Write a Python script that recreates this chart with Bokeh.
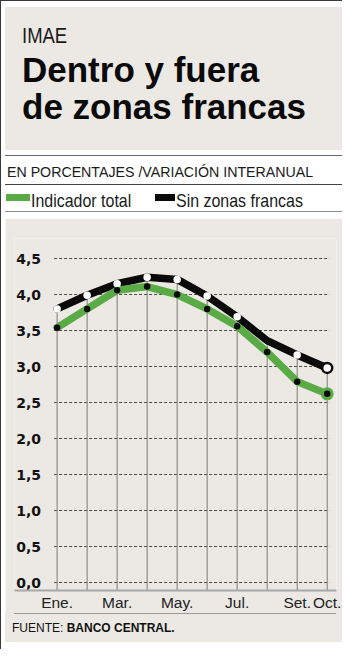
from bokeh.plotting import figure
from bokeh.models import Div, Range1d, FixedTicker
from bokeh.layouts import column, row
from bokeh.embed import file_html
from bokeh.resources import INLINE
from bokeh.core.properties import value

# ---------------- data ----------------
months = ["Ene.", "Feb.", "Mar.", "Abr.", "May.", "Jun.", "Jul.", "Ago.", "Set.", "Oct."]
month_index = [1, 2, 3, 4, 5, 6, 7, 8, 9, 10]
indicador_total = [3.54, 3.80, 4.06, 4.11, 4.00, 3.80, 3.56, 3.20, 2.79, 2.62]
sin_zonas_francas = [3.80, 3.99, 4.15, 4.24, 4.21, 3.98, 3.69, 3.36, 3.16, 2.98]
x_tick_months = [1, 3, 5, 7, 9, 10]
y_ticks = [0.0, 0.5, 1.0, 1.5, 2.0, 2.5, 3.0, 3.5, 4.0, 4.5]
y_tick_labels = ["0,0", "0,5", "1,0", "1,5", "2,0", "2,5", "3,0", "3,5", "4,0", "4,5"]
unmarked_months = ["Ago."]

title_kicker = "IMAE"
title_main = "Dentro y fuera<br>de zonas francas"
subtitle = "EN PORCENTAJES /VARIACIÓN INTERANUAL"
legend_names = ["Indicador total", "Sin zonas francas"]
source_label = "FUENTE:"
source_name = "BANCO CENTRAL."

# ---------------- style ----------------
BEIGE = "#ece9e4"
GREEN = "#5aab46"
BLACK = "#0a0a0a"
RULE = "#3a3a3a"
NARROW = "transform:scaleX(0.84);transform-origin:0 0;"

# ---------------- header ----------------
header_html = f"""
<div style="position:relative;width:342px;height:218px;font-family:'Liberation Sans',Arial,sans-serif;color:#111;">
 <div style="position:absolute;left:0;top:0;width:342px;height:1px;background:{RULE};"></div>
 <div style="position:absolute;left:0;top:0;width:1px;height:218px;background:{RULE};"></div>
 <div style="position:absolute;left:5px;top:7px;width:337px;height:143px;background:{BEIGE};"></div>
 <div style="position:absolute;left:22px;top:25px;font-size:22px;line-height:22px;white-space:nowrap;color:#1a1a1a;{NARROW}">{title_kicker}</div>
 <div style="position:absolute;left:22px;top:51px;font-weight:bold;font-size:35px;line-height:37px;white-space:nowrap;color:#0a0a0a;">{title_main}</div>
 <div style="position:absolute;left:5px;top:155px;width:337px;height:1px;background:#6a6a6a;"></div>
 <div style="position:absolute;left:7px;top:165px;font-size:14.2px;line-height:14px;white-space:nowrap;color:#1a1a1a;">{subtitle}</div>
 <div style="position:absolute;left:5px;top:184px;width:337px;height:1px;background:#444;"></div>
 <div style="position:absolute;left:6px;top:194px;width:24px;height:7px;background:{GREEN};"></div>
 <div style="position:absolute;left:31px;top:191px;font-size:19px;line-height:19px;white-space:nowrap;color:#1a1a1a;{NARROW}">{legend_names[0]}</div>
 <div style="position:absolute;left:155px;top:194px;width:20px;height:7px;background:{BLACK};"></div>
 <div style="position:absolute;left:176px;top:191px;font-size:19px;line-height:19px;white-space:nowrap;color:#1a1a1a;{NARROW}">{legend_names[1]}</div>
 <div style="position:absolute;left:5px;top:211px;width:337px;height:1px;background:#8a8a8a;"></div>
</div>
"""
header = Div(text=header_html, width=342, height=218, margin=0)

# ---------------- chart ----------------
x_start, x_end = -0.42, 10.31
y_start, y_end = -0.111, 4.778

p = figure(frame_width=322, frame_height=352, output_backend="svg", toolbar_location=None, tools="",
           x_range=Range1d(x_start, x_end), y_range=Range1d(y_start, y_end),
           y_axis_location=None,
           min_border_left=9, min_border_right=6, min_border_top=20, min_border_bottom=0)
p.background_fill_color = BEIGE
p.border_fill_color = BEIGE
p.outline_line_color = None
p.xgrid.visible = False
p.ygrid.visible = False

# dashed horizontal guides from first to last month
p.segment(x0=[month_index[0] - 0.1] * len(y_ticks), x1=[month_index[-1] + 0.07] * len(y_ticks),
          y0=y_ticks, y1=y_ticks, line_color="#4a4a4a", line_width=1, line_dash="3 2")

# vertical drop lines
p.segment(x0=month_index, x1=month_index, y0=sin_zonas_francas, y1=[y_start] * len(month_index),
          line_color="#7a7a7a", line_width=1)

# lines
p.line(month_index, sin_zonas_francas, line_color=BLACK, line_width=7.5, line_join="round", line_cap="round")
p.line(month_index, indicador_total, line_color=GREEN, line_width=7.5, line_join="round", line_cap="round")

# markers (all but last, and except unmarked months for the black series)
mk_x = [m for m, lab in zip(month_index[:-1], months[:-1]) if lab not in unmarked_months]
mk_y = [v for v, lab in zip(sin_zonas_francas[:-1], months[:-1]) if lab not in unmarked_months]
p.scatter(mk_x, mk_y, size=7.5, fill_color="white", line_color=None)
p.scatter(month_index[:-1], indicador_total[:-1], size=6.5, fill_color=BLACK, line_color=None)

# emphasized last points
p.scatter([month_index[-1]], [sin_zonas_francas[-1]], size=10, fill_color="white",
          line_color=BLACK, line_width=2.5)
p.scatter([month_index[-1]], [indicador_total[-1]], size=13, fill_color=GREEN, line_color=None)
p.scatter([month_index[-1]], [indicador_total[-1]], size=6.5, fill_color=BLACK, line_color=None)

# y labels
p.text(x=[month_index[0]] * len(y_ticks), y=y_ticks, text=y_tick_labels,
       x_offset=-16, text_align="right", text_baseline="middle",
       text_font=value("DejaVu Sans"), text_font_style="bold", text_font_size="14px",
       text_color="#111111")

# x axis
p.xaxis.ticker = FixedTicker(ticks=x_tick_months)
p.xaxis.major_label_overrides = {m: months[m - 1] for m in x_tick_months}
p.xaxis.axis_line_color = "#a8a8a8"
p.xaxis.axis_line_width = 2
p.xaxis.major_tick_line_color = None
p.xaxis.minor_tick_line_color = None
p.xaxis.major_tick_out = 0
p.xaxis.major_label_standoff = 3
p.xaxis.major_label_text_font = "Liberation Sans"
p.xaxis.major_label_text_font_size = "15.5px"
p.xaxis.major_label_text_color = "#222222"

# ---------------- source ----------------
source_html = f"""
<div style="position:relative;width:337px;height:29px;font-family:'Liberation Sans',Arial,sans-serif;">
 <div style="position:absolute;left:0;top:0;width:337px;height:29px;background:{BEIGE};"></div>
 <div style="position:absolute;left:9px;top:0;width:322px;height:1px;background:#9a9a9a;"></div>
 <div style="position:absolute;left:7px;top:9px;font-size:12px;line-height:12px;white-space:nowrap;color:#111;">{source_label} <b>{source_name}</b></div>
</div>
"""
source_div = Div(text=source_html, width=337, height=29, margin=0)

left_line = Div(text=f'<div style="position:relative;width:5px;height:431px;"><div style="position:absolute;left:0;top:0;width:1px;height:431px;background:{RULE};"></div></div>',
                width=5, height=431, margin=0)

layout = column(header, row(left_line, column(p, source_div, spacing=0), spacing=0), spacing=0)

open("out.html", "w").write(file_html(layout, INLINE))
